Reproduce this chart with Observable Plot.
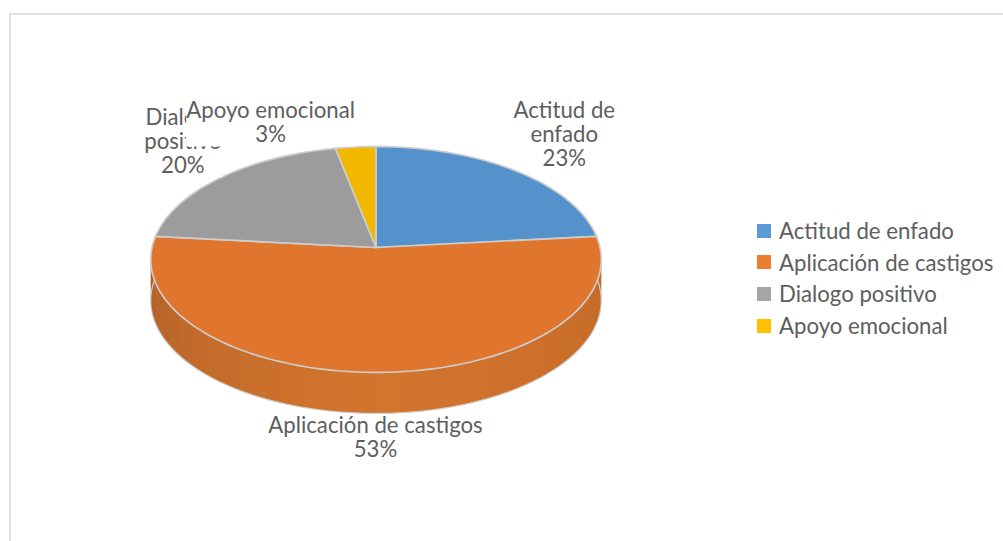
<!DOCTYPE html>
<html>
<head>
<meta charset="utf-8">
<script src="https://cdn.jsdelivr.net/npm/d3@7"></script>
<script src="https://cdn.jsdelivr.net/npm/@observablehq/plot@0.6"></script>
<style>
  html, body { margin: 0; padding: 0; background: #fff; }
  #chart { position: relative; width: 1003px; height: 541px; overflow: hidden; font-family: Lato, sans-serif; }
  #chart svg { display: block; position: absolute; left: 0; top: 0; }
  #frame { position: absolute; left: 9px; top: 13px; right: -5px; bottom: -5px; border: 2px solid #e0e0e0; z-index: 2; pointer-events: none; }
  #legend { position: absolute; left: 757px; top: 215px; z-index: 3; color: #5e5e5e; font-size: 22.2px; line-height: 31.6px; }
  #legend div { display: flex; align-items: center; white-space: nowrap; }
  #legend i { display: inline-block; width: 14px; height: 14px; margin-right: 8px; }
</style>
</head>
<body>
<div id="chart"><div id="frame"></div><div id="legend"></div></div>
<script>
const categories = ["Actitud de enfado", "Aplicación de castigos", "Dialogo positivo", "Apoyo emocional"];
const values = [23.4, 53.2, 20.2, 3.2];
const topColors = ["#5592cb", "#e0752d", "#9c9c9c", "#f2b800"];
const legendColors = ["#5b9bd5", "#ed7d31", "#a5a5a5", "#ffc000"];
const labelLines = ["Actitud de\nenfado", "Aplicación de castigos", "Dialogo\npositivo", "Apoyo emocional"];

// perspective of the tilted disc
const persp = 0.106, pxX = 224, pxY = 111.7, cx = 375.5, cy = 247, depthPx = 41;
const total = d3.sum(values);
const fractions = values.map(v => v / total);
const starts = d3.cumsum([0, ...fractions]);

function project(frac, drop = 0) {
  const a = frac * 2 * Math.PI, u = Math.sin(a), v = -Math.cos(a), d = 1 - persp * v;
  return {x: u / d, y: v / d + drop};
}
const drop = depthPx / pxY;

// top faces
const faces = categories.flatMap((c, i) => {
  const n = Math.max(4, Math.ceil(fractions[i] * 240));
  const pts = [{slice: i, x: 0, y: 0}];
  for (let k = 0; k <= n; k++) pts.push({slice: i, ...project(starts[i] + fractions[i] * k / n)});
  pts.push({slice: i, x: 0, y: 0});
  return pts.map(p => ({...p, fill: topColors[i]}));
});

// side wall, drawn in overlapping bands whose tone shifts around the rim
const shade = d3.scaleLinear()
  .domain([0.235, 0.30, 0.38, 0.5, 0.62, 0.70, 0.765])
  .range(["#c26a28", "#c66c29", "#cc702b", "#d4752d", "#c46c2b", "#b7642a", "#ab5e22"]);
const wallStart = 0.235, wallEnd = 0.765, bands = 34;
const wall = d3.range(bands).flatMap(b => {
  const f0 = wallStart + (wallEnd - wallStart) * b / bands;
  const f1 = Math.min(wallEnd, wallStart + (wallEnd - wallStart) * (b + 1.4) / bands);
  const n = 4, pts = [];
  for (let k = 0; k <= n; k++) pts.push({band: b, ...project(f0 + (f1 - f0) * k / n)});
  for (let k = n; k >= 0; k--) pts.push({band: b, ...project(f0 + (f1 - f0) * k / n, drop)});
  const col = shade(f0 + (wallEnd - wallStart) / bands / 2);
  return pts.map(p => ({...p, fill: col}));
});
const wallEdge = d3.range(0, 121).map(k => project(wallStart + (wallEnd - wallStart) * k / 120, drop));
const sideEdges = [wallStart, wallEnd].flatMap((f, i) => [{e: i, ...project(f)}, {e: i, ...project(f, drop)}]);

// data labels: anchored on the rim at each slice's mid angle, offset in pixels
const offsets = [[49, -36], [-0.5, 64.5], [-38, -36], [-85, -25]];
const labels = categories.map((c, i) => {
  const p = project(starts[i] + fractions[i] / 2);
  return {
    x: p.x, y: p.y, dx: offsets[i][0], dy: offsets[i][1],
    text: labelLines[i] + "\n" + Math.round(values[i]) + "%"
  };
});
const labelBox = (l, hw, hh) => ({
  x1: l.x + (l.dx - hw) / pxX, x2: l.x + (l.dx + hw) / pxX,
  y1: l.y + (l.dy - hh) / pxY, y2: l.y + (l.dy + hh) / pxY
});
const textMark = l => Plot.text([l], {
  x: "x", y: "y", text: "text", dx: l.dx, dy: l.dy,
  fontSize: 22.2, lineHeight: 1.08, fill: "#5e5e5e", textAnchor: "middle"
});

const plot = Plot.plot({
  width: 1003, height: 541,
  marginLeft: 0, marginRight: 0, marginTop: 0, marginBottom: 0,
  x: {domain: [-1, 1], range: [cx - pxX, cx + pxX], axis: null},
  y: {domain: [-1, 1], range: [cy - pxY, cy + pxY], axis: null},
  color: {type: "identity"},
  style: {fontFamily: "Lato, sans-serif", background: "transparent"},
  marks: [
    Plot.line(wall, {x: "x", y: "y", z: "band", fill: "fill", stroke: "none"}),
    Plot.line(wallEdge, {x: "x", y: "y", stroke: "#cfcfcf", strokeWidth: 1.2}),
    Plot.line(sideEdges, {x: "x", y: "y", z: "e", stroke: "#c4c4c4", strokeWidth: 1.5}),
    Plot.line(faces, {x: "x", y: "y", z: "slice", fill: "fill", stroke: "#cdcdcd", strokeWidth: 1.7, strokeLinejoin: "round"}),
    Plot.rect([labelBox(labels[2], 40, 36)], {x1: "x1", x2: "x2", y1: "y1", y2: "y2", fill: "#fff"}),
    textMark(labels[2]),
    Plot.rect([labelBox(labels[3], 84, 25)], {x1: "x1", x2: "x2", y1: "y1", y2: "y2", fill: "#fff"}),
    textMark(labels[3]),
    textMark(labels[0]),
    textMark(labels[1])
  ]
});
const host = document.getElementById("chart");
host.insertBefore(plot, host.firstChild);

const legend = d3.select("#legend");
categories.forEach((c, i) => {
  const row = legend.append("div");
  row.append("i").style("background", legendColors[i]);
  row.append("span").text(c);
});
</script>
</body>
</html>
